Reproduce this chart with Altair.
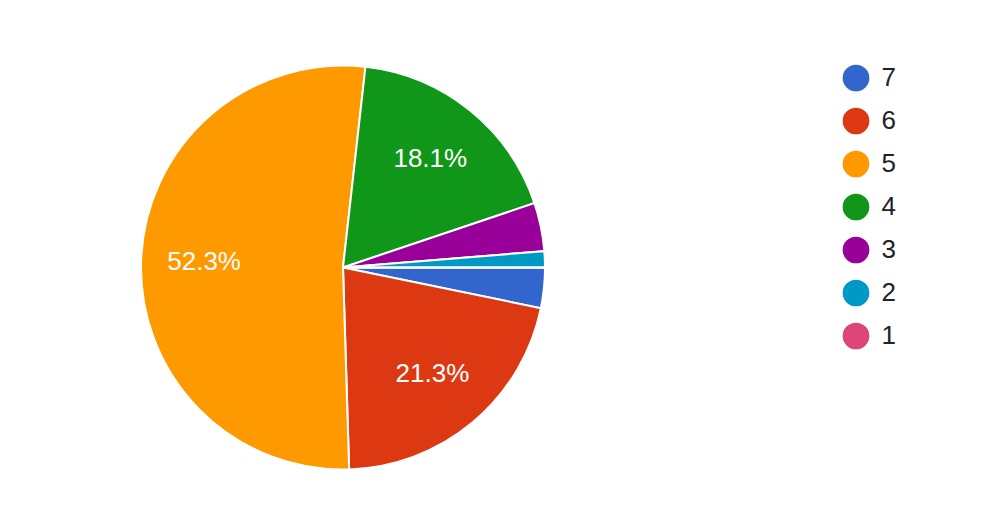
import math
import altair as alt
import pandas as pd

categories = ["7", "6", "5", "4", "3", "2", "1"]
counts = [5, 33, 81, 28, 6, 2, 0]
colors = ["#3366cc", "#dc3912", "#ff9900", "#109618", "#990099", "#0099c6", "#dd4477"]

total = sum(counts)
df = pd.DataFrame({
    "cat": categories,
    "count": counts,
    "ord": list(range(len(categories))),
})
df["label"] = [f"{c / total * 100:.1f}%" if c / total > 0.05 else "" for c in counts]

FONT = "Arial, Liberation Sans, sans-serif"
CX, CY, R = 335, 259.5, 202

theta_scale = alt.Scale(range=[math.pi / 2, math.pi / 2 + 2 * math.pi])

base = alt.Chart(df).encode(
    theta=alt.Theta("count:Q", stack=True, scale=theta_scale),
    order=alt.Order("ord:Q"),
)

arcs = base.mark_arc(stroke="white", strokeWidth=2, radius=R).encode(
    x=alt.value(CX),
    y=alt.value(CY),
    color=alt.Color(
        "cat:N",
        scale=alt.Scale(domain=categories, range=colors),
        legend=alt.Legend(
            title=None,
            orient="none",
            legendX=834.5,
            legendY=56.5,
            symbolType="circle",
            symbolSize=713,
            symbolStrokeWidth=0,
            labelFontSize=26,
            labelFont=FONT,
            labelColor="#222222",
            labelOffset=12,
            rowPadding=16,
        ),
    ),
)

texts = base.mark_text(
    radius=139, fontSize=26, font=FONT, color="white"
).encode(
    x=alt.value(CX),
    y=alt.value(CY),
    text="label:N",
)

chart = (
    alt.layer(arcs, texts)
    .properties(width=973, height=494, padding=0, autosize=alt.AutoSizeParams(type="none"))
    .configure_view(stroke=None)
)

chart.save("out.html", embed_options={"renderer": "svg", "actions": False})
